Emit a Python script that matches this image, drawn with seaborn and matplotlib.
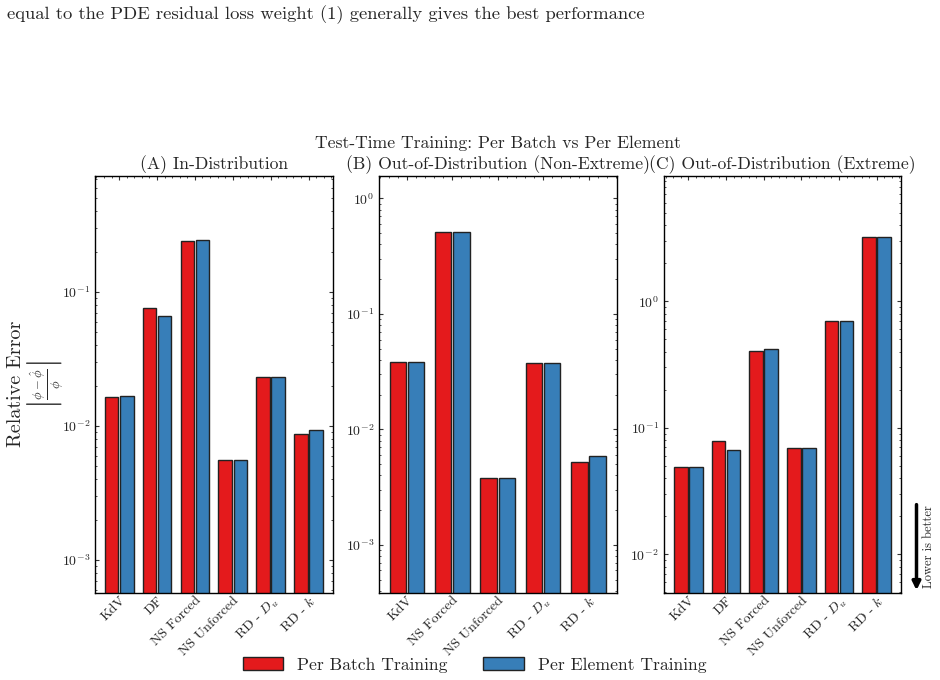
import matplotlib
matplotlib.use("Agg")
import matplotlib.pyplot as plt
from matplotlib.ticker import AutoMinorLocator
import seaborn as sns
import pandas as pd

sns.set_style("white")
plt.rcParams['font.family'] = ['cmr10', 'DejaVu Serif']
plt.rcParams['mathtext.fontset'] = 'cm'
plt.rcParams['axes.unicode_minus'] = False
plt.rcParams['axes.formatter.use_mathtext'] = True

methods = ['Per Batch Training', 'Per Element Training']
colors = ['#e41a1c', '#377eb8']

# (A) In-Distribution
cats_a = ['KdV', 'DF', 'NS Forced', 'NS Unforced', 'RD - $D_u$', 'RD - $k$']
batch_a = [0.0166, 0.076, 0.2415, 0.00557, 0.0231, 0.0087]
elem_a = [0.0167, 0.0666, 0.244, 0.00557, 0.0231, 0.0094]

# (B) Out-of-Distribution (Non-Extreme)
cats_b = ['KdV', 'NS Forced', 'NS Unforced', 'RD - $D_u$', 'RD - $k$']
batch_b = [0.038, 0.516, 0.0038, 0.0375, 0.00524]
elem_b = [0.038, 0.516, 0.0038, 0.0375, 0.00586]

# (C) Out-of-Distribution (Extreme)
cats_c = ['KdV', 'DF', 'NS Forced', 'NS Unforced', 'RD - $D_u$', 'RD - $k$']
batch_c = [0.0494, 0.0784, 0.404, 0.069, 0.694, 3.23]
elem_c = [0.0494, 0.0673, 0.422, 0.069, 0.694, 3.23]

titles = ['(A) In-Distribution', '(B) Out-of-Distribution (Non-Extreme)',
          '(C) Out-of-Distribution (Extreme)']
ylims = [(5.67e-4, 0.734), (3.83e-4, 1.56), (4.95e-3, 9.77)]
xlims = [(-0.64, 5.64), (-0.62, 4.62), (-0.66, 5.66)]
lefts = [0.101, 0.403, 0.706]


def make_df(cats, batch, elem):
    return pd.DataFrame({
        'Dataset': cats * 2,
        'Error': batch + elem,
        'Method': [methods[0]] * len(cats) + [methods[1]] * len(cats),
    })


dfs = [make_df(cats_a, batch_a, elem_a),
       make_df(cats_b, batch_b, elem_b),
       make_df(cats_c, batch_c, elem_c)]

fig = plt.figure(figsize=(9.4, 6.8), dpi=100)

for i, df in enumerate(dfs):
    ax = fig.add_axes([lefts[i], 0.128, 0.253, 0.613])
    ax.set_yscale('log')
    sns.barplot(data=df, x='Dataset', y='Error', hue='Method', palette=colors,
                saturation=1, width=0.8, gap=0.1, edgecolor='#222222',
                linewidth=1.0, ax=ax, legend=(i == 0))
    ax.set_ylim(*ylims[i])
    ax.set_xlim(*xlims[i])
    ax.set_title(titles[i], fontsize=12.7, pad=5)
    ax.set_xlabel('')
    ax.set_ylabel('')
    ax.tick_params(axis='x', labelrotation=45, labelsize=10, pad=1)
    for lab in ax.get_xticklabels():
        lab.set_ha('right')
        lab.set_rotation_mode('anchor')
    ax.tick_params(axis='y', labelsize=10)
    ax.xaxis.set_minor_locator(AutoMinorLocator(5))
    ax.tick_params(which='both', direction='in', top=True, right=True,
                   left=True, bottom=False, color='#333333')
    ax.tick_params(which='major', length=3)
    ax.tick_params(which='minor', length=1.5)
    for s in ax.spines.values():
        s.set_color('black')
        s.set_linewidth(1.0)
    if i == 0:
        handles, labels = ax.get_legend_handles_labels()
        ax.get_legend().remove()

# y label as two text lines
fig.text(0.017, 0.435, 'Relative Error', rotation=90, fontsize=14.5,
         ha='center', va='center')
fig.text(0.049, 0.435, r'$\left|\frac{\phi-\hat{\phi}}{\phi}\right|$',
         rotation=90, fontsize=13, ha='center', va='center')

fig.legend(handles, labels, loc='center', bbox_to_anchor=(0.505, 0.022),
           ncol=2, frameon=False, fontsize=12.7, columnspacing=2.0,
           handlelength=2.3)

fig.suptitle('Test-Time Training: Per Batch vs Per Element', fontsize=12.7,
             x=0.53, y=0.8)
fig.text(0.007, 0.978, 'equal to the PDE residual loss weight (1) generally gives the best performance',
         fontsize=13.4, ha='left', va='center')

fig.add_artist(matplotlib.patches.FancyArrowPatch(
    (0.975, 0.262), (0.975, 0.128), transform=fig.transFigure,
    arrowstyle='-|>', mutation_scale=12, lw=2.5, color='black'))
fig.text(0.988, 0.196, 'Lower is better', rotation=90, fontsize=9,
         ha='center', va='center')

fig.savefig('out.png', dpi=100)
